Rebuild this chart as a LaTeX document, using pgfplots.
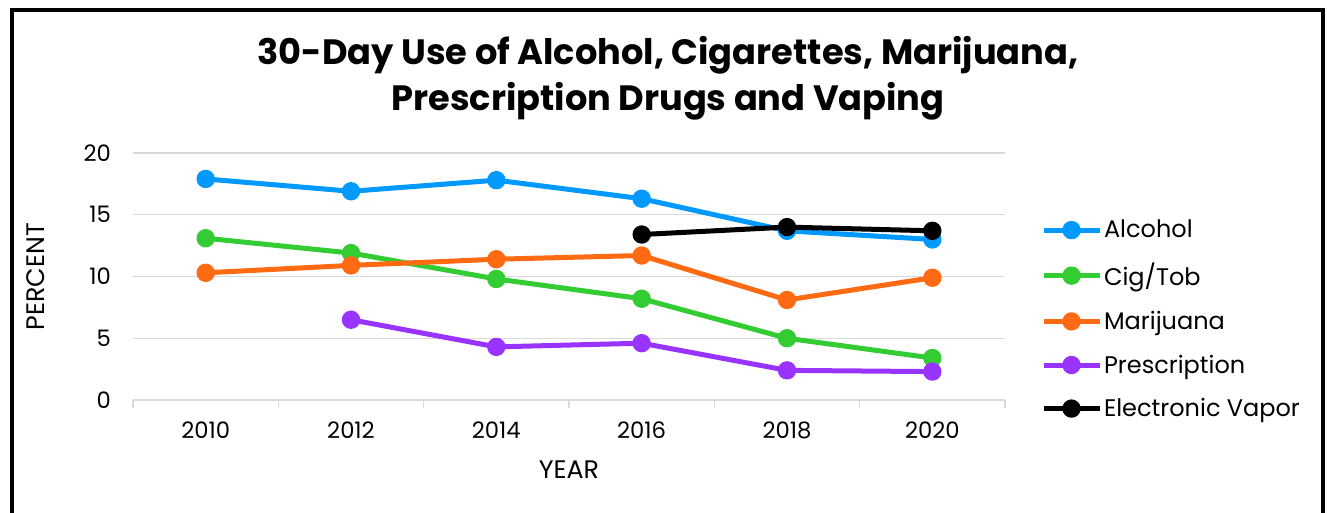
\documentclass[border=0pt]{standalone}
\usepackage{pgfplots}
\pgfplotsset{compat=1.18}
\usepackage{fontspec}
\setmainfont{Poppins}
\definecolor{cAlc}{RGB}{0,153,255}
\definecolor{cCig}{RGB}{51,204,51}
\definecolor{cMar}{RGB}{255,106,19}
\definecolor{cPre}{RGB}{153,51,255}
\definecolor{cVap}{RGB}{0,0,0}
\definecolor{gridgray}{RGB}{217,217,217}
\begin{document}
\begin{tikzpicture}
\useasboundingbox (0,0) rectangle (995.25pt,384pt);
\clip (0,0) rectangle (995.25pt,384pt);
\fill[white] (0,0) rectangle (995.25pt,384pt);
\begin{axis}[
  at={(99.75pt,84pt)}, anchor=south west,
  scale only axis, width=654pt, height=185.25pt,
  xmin=-0.5, xmax=5.5, ymin=0, ymax=20,
  xtick={0,1,2,3,4,5},
  xticklabels={2010,2012,2014,2016,2018,2020},
  minor xtick={-0.5,0.5,1.5,2.5,3.5,4.5,5.5},
  ytick={0,5,10,15,20},
  major tick length=0pt,
  minor tick length=6pt,
  tick align=outside,
  minor tick style={gridgray, line width=1.1pt},
  axis x line*=bottom,
  axis y line*=left,
  x axis line style={gridgray, line width=1.1pt, -},
  y axis line style={draw=none},
  ymajorgrids,
  major grid style={gridgray, line width=1.1pt},
  /pgf/number format/assume math mode=true,
  ticklabel style={font=\fontsize{17}{20}\selectfont},
  xticklabel style={yshift=-13pt},
  yticklabel style={xshift=-13pt},
  xlabel={YEAR},
  ylabel={PERCENT},
  label style={font=\fontsize{19}{22}\selectfont},
  xlabel style={at={(axis description cs:0.5,-0.28)}, anchor=center},
  ylabel style={at={(axis description cs:-0.112,0.5)}, anchor=center},
  line join=round,
  every axis plot/.append style={line width=3.75pt, mark=*, mark size=5pt},
  legend style={at={(rel axis cs:1.041,0.737)}, anchor=north west, draw=none, fill=none,
    font=\fontsize{18}{21}\selectfont, row sep=14.5pt, inner sep=0pt,
    nodes={inner sep=1.5pt}},
  legend cell align=left,
  legend image code/.code={\draw[mark repeat=2,mark phase=2,#1] plot coordinates {(0pt,0pt) (21pt,0pt) (42pt,0pt)};},
]
\addplot[cAlc, mark options={fill=cAlc, draw=cAlc}] coordinates {(0,17.9) (1,16.9) (2,17.8) (3,16.3) (4,13.7) (5,13.0)};
\addlegendentry{Alcohol}
\addplot[cCig, mark options={fill=cCig, draw=cCig}] coordinates {(0,13.1) (1,11.9) (2,9.8) (3,8.2) (4,5.0) (5,3.4)};
\addlegendentry{Cig/Tob}
\addplot[cMar, mark options={fill=cMar, draw=cMar}] coordinates {(0,10.3) (1,10.9) (2,11.4) (3,11.7) (4,8.1) (5,9.9)};
\addlegendentry{Marijuana}
\addplot[cPre, mark options={fill=cPre, draw=cPre}] coordinates {(1,6.5) (2,4.3) (3,4.6) (4,2.4) (5,2.3)};
\addlegendentry{Prescription}
\addplot[cVap, mark options={fill=cVap, draw=cVap}] coordinates {(3,13.4) (4,14.0) (5,13.7)};
\addlegendentry{Electronic Vapor}
\end{axis}
\node[anchor=base, font=\fontsize{26.4}{31}\selectfont\bfseries] at (501pt,335.5pt) {30-Day Use of Alcohol, Cigarettes, Marijuana,};
\node[anchor=base, font=\fontsize{26.4}{31}\selectfont\bfseries] at (501pt,301pt) {Prescription Drugs and Vaping};
\draw[line width=3pt, line cap=rect] (9pt,-10pt) -- (9pt,376.5pt) -- (992.6pt,376.5pt) -- (992.6pt,-10pt);
\end{tikzpicture}
\end{document}
